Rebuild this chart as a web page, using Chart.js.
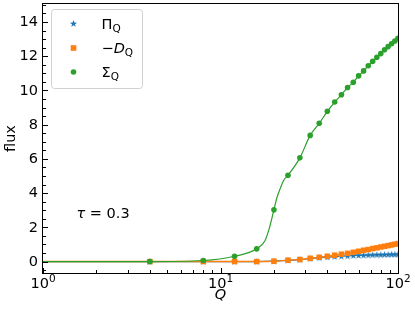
<!DOCTYPE html>
<html>
<head>
<meta charset="utf-8">
<script src="https://cdn.jsdelivr.net/npm/chart.js@4.4.1/dist/chart.umd.min.js"></script>
<style>
  html, body { margin: 0; padding: 0; background: #fff; }
</style>
</head>
<body>
<canvas id="chartFlux" width="415" height="312"></canvas>
<script>
// data
const qValues = [4, 8, 12, 16, 20, 24, 28, 32, 36, 40, 44, 48, 52, 56, 60, 64, 68, 72, 76, 80, 84, 88, 92, 96, 100];
const piValues = [0, 0, 0, 0, 0.02, 0.07, 0.11, 0.17, 0.22, 0.26, 0.29, 0.31, 0.33, 0.35, 0.36, 0.37, 0.38, 0.39, 0.40, 0.40, 0.41, 0.41, 0.42, 0.42, 0.42];
const dValues = [0, 0, 0, 0, 0.02, 0.08, 0.12, 0.19, 0.25, 0.31, 0.37, 0.43, 0.48, 0.54, 0.60, 0.66, 0.70, 0.76, 0.80, 0.85, 0.89, 0.93, 0.97, 1.01, 1.05];
const sigmaValues = [0, 0.06, 0.31, 0.74, 3.02, 5.04, 6.06, 7.37, 8.08, 8.78, 9.32, 9.75, 10.17, 10.48, 10.85, 11.14, 11.44, 11.70, 11.94, 12.15, 12.37, 12.56, 12.73, 12.89, 13.04];
const sigmaCurveQ = [17.8, 18.9, 20.8, 21.8, 22.7];
const sigmaCurveValues = [1.22, 2.0, 3.74, 4.32, 4.75];
// the lines run on to the left edge at zero
const lineStart = { x: 1, y: 0 };
const yTicks = [0, 2, 4, 6, 8, 10, 12, 14];
const xTicks = [1, 10, 100];
const xTickExp = ["0", "1", "2"];

const BLUE = "#1f77b4";
const ORANGE = "#ff7f0e";
const GREEN = "#2ca02c";
const FONT = "'DejaVu Sans', sans-serif";

const toPoints = (vals) => qValues.map((q, i) => ({ x: q, y: vals[i] }));

const sigmaCurve = [
  ...toPoints(sigmaValues),
  ...sigmaCurveQ.map((q, i) => ({ x: q, y: sigmaCurveValues[i] })),
].sort((a, b) => a.x - b.x);

const starPath = (ctx, cx, cy, r) => {
  ctx.beginPath();
  for (let k = 0; k < 10; k++) {
    const rr = k % 2 === 0 ? r : r * 0.4;
    const a = -Math.PI / 2 + (k * Math.PI) / 5;
    const px = cx + rr * Math.cos(a);
    const py = cy + rr * Math.sin(a);
    k === 0 ? ctx.moveTo(px, py) : ctx.lineTo(px, py);
  }
  ctx.closePath();
};

const starImg = document.createElement("canvas");
starImg.width = 9;
starImg.height = 9;
(() => {
  const c = starImg.getContext("2d");
  c.fillStyle = BLUE;
  starPath(c, 4.5, 4.8, 3.8);
  c.fill();
})();

const lineSet = (points, color, width, order) => ({
  data: [lineStart, ...points],
  borderColor: color,
  borderWidth: width,
  pointRadius: 0,
  cubicInterpolationMode: "monotone",
  fill: false,
  clip: 0,
  order: order,
});

const markerSet = (vals, color, style, radius, order) => ({
  data: toPoints(vals),
  showLine: false,
  pointStyle: style,
  pointRadius: radius,
  pointBackgroundColor: color,
  pointBorderColor: color,
  pointBorderWidth: 0,
  clip: 0,
  order: order,
});

const drawSub = (ctx, x, y, parts) => {
  // parts: [text, font, dy]
  parts.forEach(([t, f, dy]) => {
    ctx.font = f;
    ctx.fillText(t, x, y + dy);
    x += ctx.measureText(t).width;
  });
};

const decor = {
  id: "decor",
  afterDraw(chart) {
    const { ctx, chartArea: a, scales } = chart;
    const xs = scales.x;
    const ys = scales.y;
    ctx.save();
    ctx.strokeStyle = "#000";
    ctx.fillStyle = "#000";
    ctx.lineWidth = 1;

    // spines
    ctx.strokeRect(a.left - 0.5, a.top - 0.5, a.right - a.left + 1, a.bottom - a.top + 1);

    // y ticks, pointing in
    ctx.beginPath();
    for (let v = -0.5; v <= 15; v += 0.5) {
      const py = Math.round(ys.getPixelForValue(v)) + 0.5;
      if (py < a.top || py > a.bottom) continue;
      const major = Math.abs(v / 2 - Math.round(v / 2)) < 1e-6;
      ctx.moveTo(a.left, py);
      ctx.lineTo(a.left + (major ? 5 : 3), py);
    }
    // x ticks, pointing in
    for (let d = 1; d <= 100; d *= 10) {
      for (let m = 1; m <= 9; m++) {
        const q = d * m;
        if (q > 100) break;
        const px = Math.round(xs.getPixelForValue(q)) + 0.5;
        ctx.moveTo(px, a.bottom);
        ctx.lineTo(px, a.bottom - (m === 1 ? 5 : 3));
      }
    }
    ctx.stroke();

    // y tick labels
    ctx.font = "14.5px " + FONT;
    ctx.textAlign = "right";
    ctx.textBaseline = "middle";
    yTicks.forEach((v) => ctx.fillText(String(v), a.left - 5, ys.getPixelForValue(v) + 0.5));

    // x tick labels 10^k
    ctx.textAlign = "left";
    ctx.textBaseline = "alphabetic";
    xTicks.forEach((q, i) => {
      ctx.font = "14.5px " + FONT;
      const w1 = ctx.measureText("10").width;
      ctx.font = "10.5px " + FONT;
      const w2 = ctx.measureText(xTickExp[i]).width;
      const x0 = xs.getPixelForValue(q) - (w1 + w2) / 2;
      drawSub(ctx, x0, 288, [["10", "14.5px " + FONT, 0], [xTickExp[i], "10.5px " + FONT, -6]]);
    });

    // axis titles
    ctx.textAlign = "center";
    ctx.font = "italic 14.5px " + FONT;
    ctx.fillText("Q", (a.left + a.right) / 2, 299);
    ctx.save();
    ctx.translate(15, (a.top + a.bottom) / 2);
    ctx.rotate(-Math.PI / 2);
    ctx.font = "14.5px " + FONT;
    ctx.fillText("flux", 0, 0);
    ctx.restore();

    // annotation
    ctx.textAlign = "left";
    drawSub(ctx, 76.5, 218, [["τ", "italic 14.5px " + FONT, 0], [" = 0.3", "14.5px " + FONT, 0]]);

    // legend
    const lx = 51.5, ly = 9.5, lw = 91, lh = 79;
    ctx.beginPath();
    ctx.roundRect(lx, ly, lw, lh, 3);
    ctx.fillStyle = "rgba(255,255,255,0.8)";
    ctx.fill();
    ctx.strokeStyle = "#d0d0d0";
    ctx.stroke();

    const mx = 73.5;
    ctx.fillStyle = BLUE;
    starPath(ctx, mx, 23.8, 3.8);
    ctx.fill();
    ctx.fillStyle = ORANGE;
    ctx.fillRect(mx - 2.8, 48 - 2.8, 5.6, 5.6);
    ctx.fillStyle = GREEN;
    ctx.beginPath();
    ctx.arc(mx, 72, 2.8, 0, Math.PI * 2);
    ctx.fill();

    ctx.fillStyle = "#000";
    const sub = "10.5px " + FONT;
    drawSub(ctx, 101.5, 28.5, [["Π", "14.5px " + FONT, 0], ["Q", sub, 3]]);
    drawSub(ctx, 101.5, 53, [["−", "14.5px " + FONT, 0], ["D", "italic 14.5px " + FONT, 0], ["Q", sub, 3]]);
    drawSub(ctx, 101.5, 77, [["Σ", "14.5px " + FONT, 0], ["Q", sub, 3]]);

    ctx.restore();
  },
};

new Chart(document.getElementById("chartFlux"), {
  type: "line",
  data: {
    datasets: [
      markerSet(sigmaValues, GREEN, "circle", 2.8, 0),
      lineSet(sigmaCurve, GREEN, 1.2, 1),
      markerSet(dValues, ORANGE, "rect", 3.9, 2),
      lineSet(toPoints(dValues), ORANGE, 1.4, 3),
      markerSet(piValues, BLUE, starImg, 4, 4),
      lineSet(toPoints(piValues), BLUE, 1.2, 5),
    ],
  },
  options: {
    responsive: false,
    devicePixelRatio: 1,
    animation: false,
    layout: { padding: { left: 43, right: 17, top: 3, bottom: 39 } },
    scales: {
      x: {
        type: "logarithmic",
        min: 1,
        max: 100,
        grid: { display: false, drawTicks: false },
        border: { display: false },
        ticks: { display: false },
        afterFit: (s) => { s.height = 0; },
      },
      y: {
        type: "linear",
        min: -0.67,
        max: 15.05,
        grid: { display: false, drawTicks: false },
        border: { display: false },
        ticks: { display: false },
        afterFit: (s) => { s.width = 0; },
      },
    },
    plugins: {
      legend: { display: false },
      tooltip: { enabled: false },
    },
  },
  plugins: [decor],
});
</script>
</body>
</html>
